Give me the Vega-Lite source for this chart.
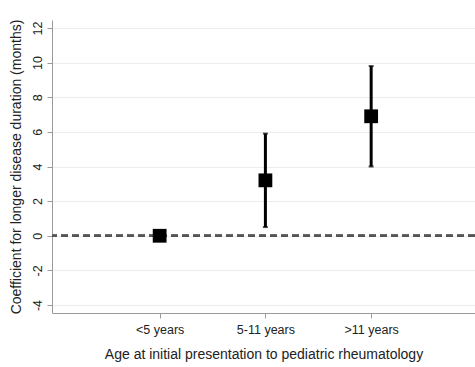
{
  "$schema": "https://vega.github.io/schema/vega-lite/v6.json",
  "width": 423,
  "height": 293,
  "autosize": {"type": "none"},
  "padding": {"left": 52, "top": 20, "right": 0, "bottom": 54},
  "background": "white",
  "config": {
    "view": {"stroke": null},
    "font": "Liberation Sans",
    "axis": {
      "labelFont": "Liberation Sans",
      "titleFont": "Liberation Sans",
      "labelColor": "#222",
      "titleColor": "#222",
      "labelFontSize": 12.5,
      "titleFontSize": 14,
      "titleFontWeight": "normal",
      "domainColor": "#9a9a9a",
      "tickColor": "#9a9a9a",
      "tickSize": 5,
      "labelOverlap": false
    },
    "axisY": {
      "labelAngle": 270,
      "labelAlign": "center",
      "labelBaseline": "bottom",
      "labelPadding": 3,
      "titlePadding": 8,
      "grid": true,
      "gridColor": "#ececec",
      "gridWidth": 1,
      "labelOverlap": false
    }
  },
  "data": {
    "values": [
      {"group": "<5 years", "est": 0, "lo": null, "hi": null},
      {"group": "5-11 years", "est": 3.2, "lo": 0.5, "hi": 5.9},
      {"group": ">11 years", "est": 6.9, "lo": 4.0, "hi": 9.8}
    ]
  },
  "encoding": {
    "x": {
      "field": "group",
      "type": "nominal",
      "scale": {"type": "point", "domain": ["<5 years", "5-11 years", ">11 years"], "padding": 1.063, "align": 0.509},
      "axis": {
        "title": "Age at initial presentation to pediatric rheumatology",
        "labelAngle": 0,
        "labelPadding": 5,
        "titlePadding": 12,
        "grid": false
      }
    }
  },
  "layer": [
    {
      "mark": {"type": "rule", "color": "#555555", "strokeWidth": 2.5, "strokeDash": [7, 4]},
      "encoding": {
        "x": null,
        "y": {
          "datum": 0,
          "type": "quantitative",
          "scale": {"domain": [-4.46, 12.46], "nice": false, "zero": false},
          "axis": {
            "title": "Coefficient for longer disease duration (months)",
            "values": [-4, -2, 0, 2, 4, 6, 8, 10, 12],
            "labelExpr": "datum.value < 0 ? '-' + abs(datum.value) : '' + datum.value"
          }
        }
      }
    },
    {
      "mark": {"type": "rule", "color": "black", "strokeWidth": 3},
      "encoding": {
        "y": {"field": "lo", "type": "quantitative", "axis": {
            "title": "Coefficient for longer disease duration (months)",
            "values": [-4, -2, 0, 2, 4, 6, 8, 10, 12],
            "labelExpr": "datum.value < 0 ? '-' + abs(datum.value) : '' + datum.value"
          }},
        "y2": {"field": "hi"}
      }
    },
    {
      "mark": {"type": "tick", "color": "black", "size": 5, "thickness": 2, "orient": "horizontal"},
      "encoding": {"y": {"field": "lo", "type": "quantitative", "axis": {
            "title": "Coefficient for longer disease duration (months)",
            "values": [-4, -2, 0, 2, 4, 6, 8, 10, 12],
            "labelExpr": "datum.value < 0 ? '-' + abs(datum.value) : '' + datum.value"
          }}}
    },
    {
      "mark": {"type": "tick", "color": "black", "size": 5, "thickness": 2, "orient": "horizontal"},
      "encoding": {"y": {"field": "hi", "type": "quantitative", "axis": {
            "title": "Coefficient for longer disease duration (months)",
            "values": [-4, -2, 0, 2, 4, 6, 8, 10, 12],
            "labelExpr": "datum.value < 0 ? '-' + abs(datum.value) : '' + datum.value"
          }}}
    },
    {
      "mark": {"type": "square", "color": "black", "filled": true, "opacity": 1, "size": 190},
      "encoding": {"y": {"field": "est", "type": "quantitative", "axis": {
            "title": "Coefficient for longer disease duration (months)",
            "values": [-4, -2, 0, 2, 4, 6, 8, 10, 12],
            "labelExpr": "datum.value < 0 ? '-' + abs(datum.value) : '' + datum.value"
          }}}
    }
  ]
}
